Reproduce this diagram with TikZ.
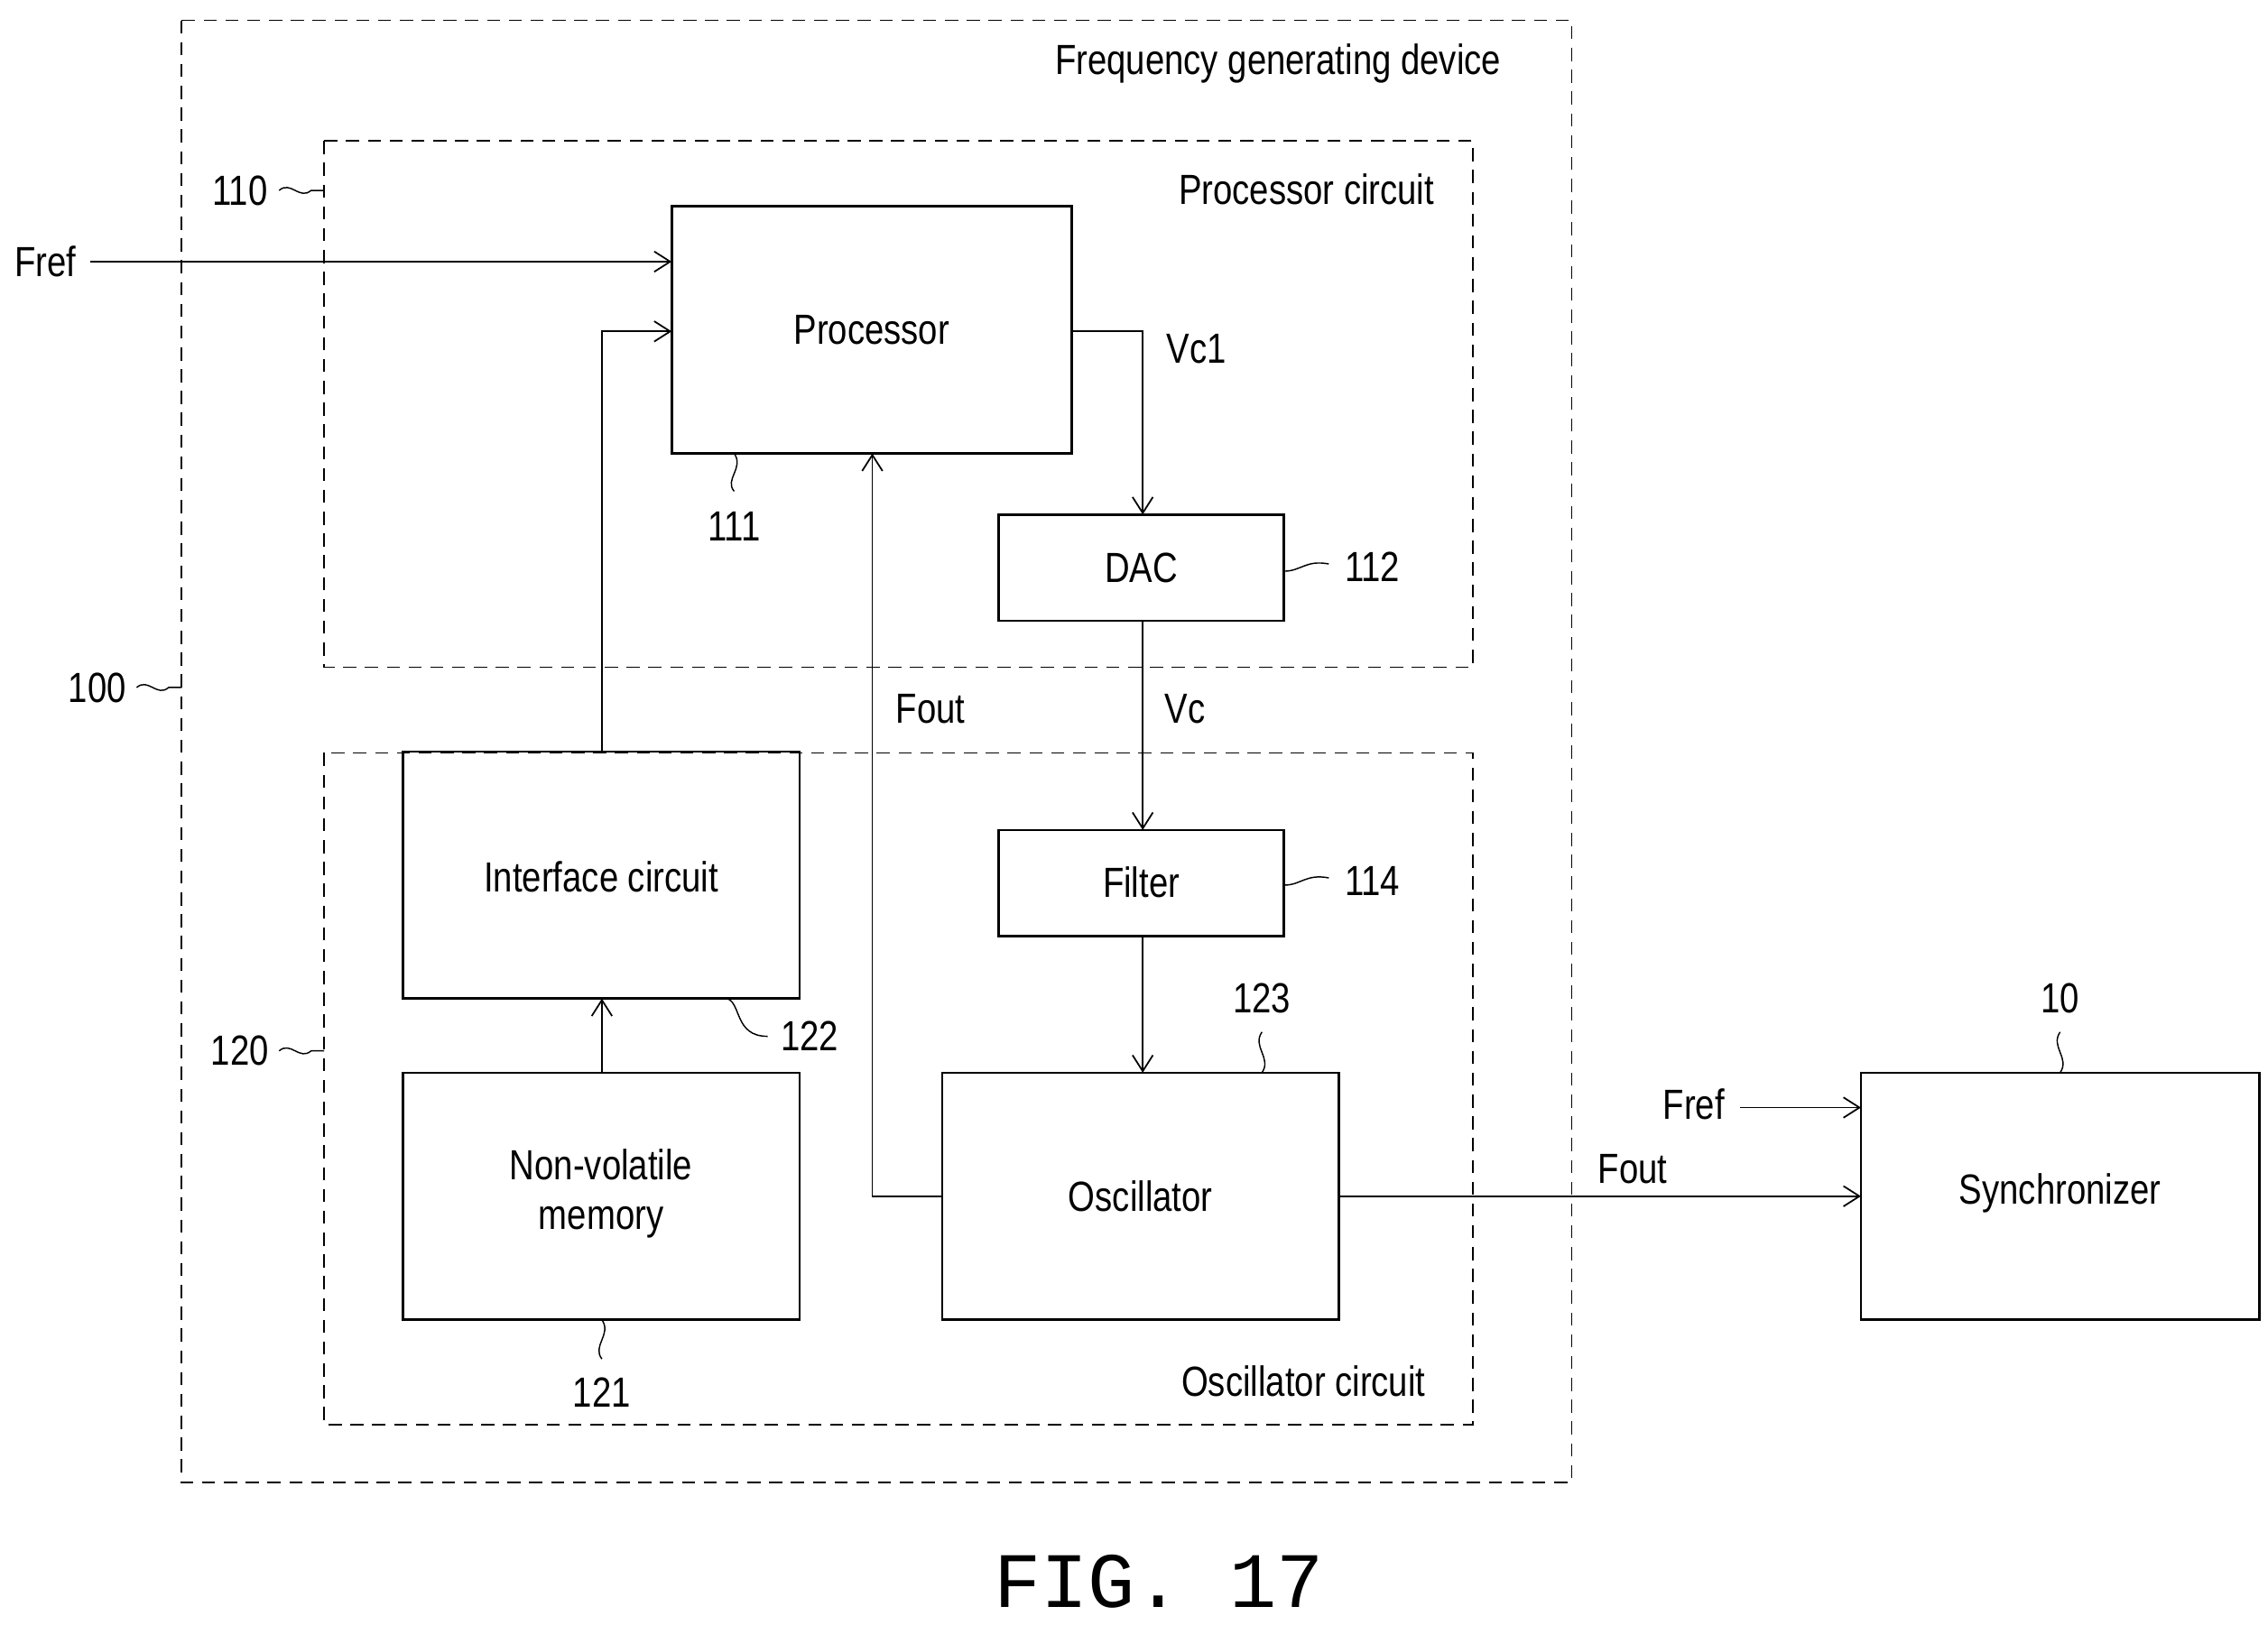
\documentclass[tikz,border=0pt]{standalone}
\usepackage{fontspec}
\setmainfont{Liberation Sans}[FakeStretch=0.82]
\newfontfamily\figfont{Liberation Mono}
\usetikzlibrary{arrows.meta}
\begin{document}
\begin{tikzpicture}[x=1pt,y=-1pt,
  every node/.style={font=\fontsize{29}{34}\selectfont},
  blk/.style={draw,line width=1.6pt,inner sep=0pt},
  dbox/.style={draw,line width=1.1pt,dash pattern=on 9pt off 6pt},
  arr/.style={line width=1.1pt,-{Straight Barb[length=11pt,width=14pt,line width=1.1pt]}},
  sq/.style={line width=0.9pt}]
\useasboundingbox (0,0) rectangle (1560,1118);
\draw[dbox] (125,14) rectangle (1081,1020);
\draw[dbox] (223,97) rectangle (1013,459);
\draw[dbox] (223,518) rectangle (1013,980);
\node[anchor=east] (tdev) at (1036,44) {Frequency generating device};
\node[anchor=east] (tpc) at (990,130) {Processor circuit};
\node[anchor=east] (toc) at (984,950) {Oscillator circuit};
\draw[blk] (462,142) rectangle (737,312); \node (proc) at (599.5,227) {Processor};
\draw[blk] (687,354) rectangle (883,427); \node (dac) at (785,391) {DAC};
\draw[blk] (687,571) rectangle (883,644); \node (filt) at (785,607) {Filter};
\draw[blk] (277,517) rectangle (550,687); \node (intf) at (413.5,603) {Interface circuit};
\draw[blk] (277,738) rectangle (550,908); \node[align=center] (nvm) at (413.5,821) {Non-volatile\\memory};
\draw[blk] (648,738) rectangle (921,908); \node (osc) at (784.5,823) {Oscillator};
\draw[blk] (1280,738) rectangle (1554,908); \node (sync) at (1417,821) {Synchronizer};
% connectors
\node[anchor=west,inner sep=0pt] (fref) at (10,180) {Fref};
\coordinate (frefE) at (62,180);
\coordinate (procL1) at (462,180);
\draw[arr] (frefE) -- (procL1);
\coordinate (intT) at (414,517); \coordinate (procL2) at (462,228);
\draw[arr] (intT) |- (procL2);
\coordinate (procR) at (737,228); \coordinate (dacT) at (786,354);
\draw[arr] (procR) -| (dacT);
\node (vc1) at (823,240) {Vc1};
\coordinate (dacB) at (786,427); \coordinate (filtT) at (786,571);
\draw[arr] (dacB) -- (filtT);
\node (vc) at (815,488) {Vc};
\coordinate (filtB) at (786,644); \coordinate (oscT) at (786,738);
\draw[arr] (filtB) -- (oscT);
\coordinate (oscL) at (648,823); \coordinate (procB) at (600,312);
\draw[arr] (oscL) -| (procB);
\node (fout1) at (640,488) {Fout};
\coordinate (nvmT) at (414,738); \coordinate (intB) at (414,687);
\draw[arr] (nvmT) -- (intB);
\coordinate (oscR) at (921,823); \coordinate (syncL) at (1280,823);
\draw[arr] (oscR) -- (syncL);
\node (fout2) at (1123,804) {Fout};
\coordinate (fref2E) at (1197,762); \coordinate (syncL2) at (1280,762);
\draw[arr] (fref2E) -- (syncL2);
\node (fref2) at (1165,760) {Fref};
% reference numerals
\node (n110) at (165,131) {110};
\draw[sq] (192,131) .. controls (200,124) and (206,138) .. (214,131) -- (223,131);
\node (n100) at (67,473) {100};
\draw[sq] (94,473) .. controls (102,466) and (108,480) .. (116,473) -- (125,473);
\node (n120) at (165,723) {120};
\draw[sq] (192,723) .. controls (200,716) and (206,730) .. (214,723) -- (223,723);
\node (n111) at (505,362) {111};
\draw[sq] (505,338) .. controls (498,330) and (512,322) .. (505,312);
\node (n112) at (944,390) {112};
\draw[sq] (883,393) .. controls (895,393) and (898,385) .. (914,388);
\node (n114) at (944,606) {114};
\draw[sq] (883,609) .. controls (895,609) and (898,601) .. (914,604);
\node (n122) at (557,713) {122};
\draw[sq] (500,687) .. controls (510,690) and (505,713) .. (528,713);
\node (n121) at (414,958) {121};
\draw[sq] (414,935) .. controls (407,926) and (421,918) .. (414,908);
\node (n123) at (868,687) {123};
\draw[sq] (868,710) .. controls (861,720) and (875,728) .. (868,738);
\node (n10) at (1417,687) {10};
\draw[sq] (1417,710) .. controls (1410,720) and (1424,728) .. (1417,738);
\node[font=\figfont\fontsize{54}{60}\selectfont] (fig) at (797,1088) {FIG. 17};
\end{tikzpicture}
\end{document}
